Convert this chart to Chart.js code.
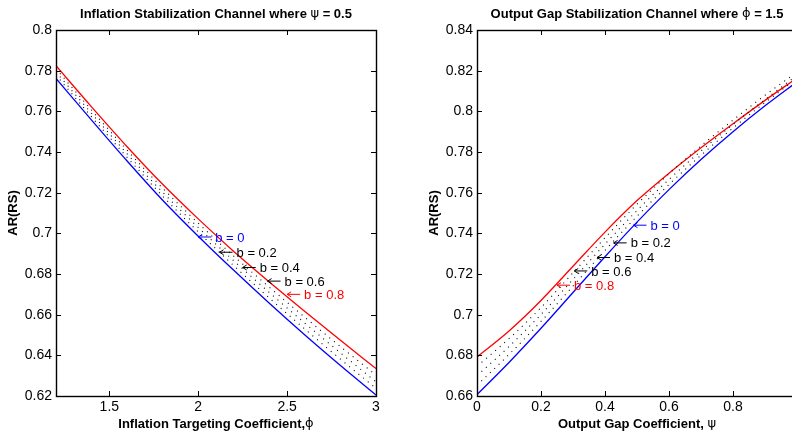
<!DOCTYPE html>
<html>
<head>
<meta charset="utf-8">
<script src="https://cdn.jsdelivr.net/npm/chart.js@4.4.1/dist/chart.umd.min.js"></script>
<style>
  html, body { margin: 0; padding: 0; background: #fff; overflow: hidden; width: 792px; height: 435px; }
  .panel { position: absolute; top: 0; }
  #leftBox { left: 0; }
  #rightBox { left: 400px; }
</style>
</head>
<body>
<div class="panel" id="leftBox"><canvas id="leftChart" width="400" height="435"></canvas></div>
<div class="panel" id="rightBox"><canvas id="rightChart" width="420" height="435"></canvas></div>
<script>
// ---- Inflation stabilization channel (psi = 0.5) ----
const phiValues = [1.2, 1.4, 1.6, 1.8, 2.0, 2.2, 2.4, 2.6, 2.8, 3.0];
const inflB00 = [0.7762, 0.7557, 0.7356, 0.7163, 0.6986, 0.6818, 0.6656, 0.6500, 0.6350, 0.6205];
const inflB02 = [0.7778, 0.7573, 0.7374, 0.7183, 0.7007, 0.6841, 0.6682, 0.6529, 0.6381, 0.6238];
const inflB04 = [0.7793, 0.7590, 0.7391, 0.7202, 0.7029, 0.6865, 0.6709, 0.6558, 0.6412, 0.6270];
const inflB06 = [0.7809, 0.7606, 0.7409, 0.7222, 0.7050, 0.6888, 0.6735, 0.6587, 0.6443, 0.6303];
const inflB08 = [0.7824, 0.7622, 0.7426, 0.7241, 0.7071, 0.6911, 0.6761, 0.6616, 0.6474, 0.6335];
const inflXTicks = [1.5, 2, 2.5, 3];
const inflYTicks = [0.62, 0.64, 0.66, 0.68, 0.70, 0.72, 0.74, 0.76, 0.78, 0.80];
const inflNotes = [
  { x: 2.00, y: 0.6982, text: 'b = 0',   color: '#0000ff' },
  { x: 2.12, y: 0.6907, text: 'b = 0.2', color: '#000000' },
  { x: 2.25, y: 0.6832, text: 'b = 0.4', color: '#000000' },
  { x: 2.39, y: 0.6765, text: 'b = 0.6', color: '#000000' },
  { x: 2.50, y: 0.6700, text: 'b = 0.8', color: '#ff0000' }
];

// ---- Output gap stabilization channel (phi = 1.5) ----
const psiValues = [0.0, 0.1, 0.2, 0.3, 0.4, 0.5, 0.6, 0.7, 0.8, 0.9, 1.0];
const outB00 = [0.6607, 0.6765, 0.6933, 0.7109, 0.7285, 0.7455, 0.7615, 0.7763, 0.7900, 0.8027, 0.8145];
const outB02 = [0.6653, 0.6804, 0.6967, 0.7141, 0.7316, 0.7484, 0.7640, 0.7784, 0.7918, 0.8043, 0.8161];
const outB04 = [0.6700, 0.6843, 0.7001, 0.7173, 0.7347, 0.7512, 0.7665, 0.7805, 0.7935, 0.8058, 0.8177];
const outB06 = [0.6746, 0.6882, 0.7035, 0.7206, 0.7378, 0.7543, 0.7693, 0.7830, 0.7957, 0.8079, 0.8193];
const outB08 = [0.6792, 0.6920, 0.7070, 0.7238, 0.7406, 0.7561, 0.7696, 0.7821, 0.7939, 0.8054, 0.8164];
const outXTicks = [0, 0.2, 0.4, 0.6, 0.8, 1];
const outYTicks = [0.66, 0.68, 0.70, 0.72, 0.74, 0.76, 0.78, 0.80, 0.82, 0.84];
const outNotes = [
  { x: 0.489, y: 0.7440, text: 'b = 0',   color: '#0000ff' },
  { x: 0.427, y: 0.7353, text: 'b = 0.2', color: '#000000' },
  { x: 0.375, y: 0.7281, text: 'b = 0.4', color: '#000000' },
  { x: 0.304, y: 0.7215, text: 'b = 0.6', color: '#000000' },
  { x: 0.250, y: 0.7145, text: 'b = 0.8', color: '#ff0000' }
];

const SANS = '"Liberation Sans", Arial, Helvetica, sans-serif';
const GREEK = '"DejaVu Sans", "Liberation Sans", sans-serif';

const fmt = v => String(parseFloat(Number(v).toFixed(4)));
const pts = (xs, ys) => xs.map((x, i) => ({ x: x, y: ys[i] }));

function solid(data, color) {
  return { data, borderColor: color, borderWidth: 1.3, pointRadius: 0,
           cubicInterpolationMode: 'monotone', fill: false };
}
function dotted(data) {
  return { data, borderColor: '#000', borderWidth: 1.1, borderDash: [1, 5], pointRadius: 0,
           cubicInterpolationMode: 'monotone', fill: false };
}

// draws a line of mixed-font text centred on (cx, cy), optionally rotated
function drawRich(ctx, segs, cx, cy, angle) {
  ctx.save();
  ctx.translate(cx, cy);
  if (angle) ctx.rotate(angle);
  let total = 0;
  segs.forEach(s => { ctx.font = s.f; total += ctx.measureText(s.t).width; });
  let x = -total / 2;
  ctx.textBaseline = 'middle';
  ctx.textAlign = 'left';
  ctx.fillStyle = '#000';
  segs.forEach(s => { ctx.font = s.f; ctx.fillText(s.t, x, 0); x += ctx.measureText(s.t).width; });
  ctx.restore();
}

// frame, inward tick marks on all four sides, labels, arrows
const framePlugin = {
  id: 'frame',
  afterDatasetsDraw(chart, args, opts) {
    const ctx = chart.ctx;
    const a = chart.chartArea;
    const xs = chart.scales.x, ys = chart.scales.y;
    ctx.save();
    ctx.strokeStyle = '#000';
    ctx.lineWidth = 1;
    const tl = 5;
    ctx.beginPath();
    opts.xTicks.forEach(v => {
      const px = Math.round(xs.getPixelForValue(v)) + 0.5;
      ctx.moveTo(px, a.bottom); ctx.lineTo(px, a.bottom - tl);
      ctx.moveTo(px, a.top); ctx.lineTo(px, a.top + tl);
    });
    opts.yTicks.forEach(v => {
      const py = Math.round(ys.getPixelForValue(v)) + 0.5;
      ctx.moveTo(a.left, py); ctx.lineTo(a.left + tl, py);
      ctx.moveTo(a.right, py); ctx.lineTo(a.right - tl, py);
    });
    ctx.stroke();
    ctx.lineWidth = 1.4;
    ctx.strokeRect(Math.round(a.left) + 0.5, Math.round(a.top) + 0.5,
                   Math.round(a.right - a.left), Math.round(a.bottom - a.top));

    // arrow annotations
    ctx.font = '13px ' + SANS;
    ctx.textBaseline = 'middle';
    ctx.textAlign = 'left';
    opts.notes.forEach(n => {
      const px = xs.getPixelForValue(n.x), py = ys.getPixelForValue(n.y);
      ctx.strokeStyle = n.color;
      ctx.fillStyle = n.color;
      ctx.lineWidth = 1;
      ctx.beginPath();
      ctx.moveTo(px, py); ctx.lineTo(px + 13, py);
      ctx.moveTo(px + 4, py - 2.5); ctx.lineTo(px, py); ctx.lineTo(px + 4, py + 2.5);
      ctx.stroke();
      ctx.fillText(n.text, px + 17, py + 1);
    });

    // titles
    drawRich(ctx, opts.title, (a.left + a.right) / 2, 14, 0);
    drawRich(ctx, opts.xTitle, (a.left + a.right) / 2, 424, 0);
    drawRich(ctx, opts.yTitle, opts.yTitleX, (a.top + a.bottom) / 2, -Math.PI / 2);
    ctx.restore();
  }
};

function makeScale(min, max, tickList, isX, size) {
  return {
    type: 'linear',
    min, max,
    afterBuildTicks: s => { s.ticks = tickList.map(v => ({ value: v })); },
    afterFit: s => { if (isX) s.height = size; else s.width = size; },
    grid: { display: false, drawTicks: false },
    border: { display: false },
    ticks: {
      autoSkip: false, maxRotation: 0, padding: isX ? 3 : 4, color: '#000',
      font: { family: SANS, size: 14 },
      callback: v => fmt(v)
    }
  };
}

function makeChart(id, cfg) {
  return new Chart(document.getElementById(id), {
    type: 'line',
    data: {
      datasets: [
        dotted(pts(cfg.xv, cfg.s[1])),
        dotted(pts(cfg.xv, cfg.s[2])),
        dotted(pts(cfg.xv, cfg.s[3])),
        solid(pts(cfg.xv, cfg.s[0]), '#0000ff'),
        solid(pts(cfg.xv, cfg.s[4]), '#ff0000')
      ]
    },
    options: {
      responsive: false,
      animation: false,
      devicePixelRatio: 1,
      layout: { padding: cfg.pad },
      plugins: {
        legend: { display: false },
        tooltip: { enabled: false },
        frame: cfg.frame
      },
      scales: {
        x: makeScale(cfg.xmin, cfg.xmax, cfg.xTicks, true, 39),
        y: makeScale(cfg.ymin, cfg.ymax, cfg.yTicks, false, cfg.yWidth)
      }
    },
    plugins: [framePlugin]
  });
}

const B = 'bold 13px ' + SANS;
const G = '13px ' + GREEK;

makeChart('leftChart', {
  xv: phiValues,
  s: [inflB00, inflB02, inflB04, inflB06, inflB08],
  xmin: 1.2, xmax: 3, ymin: 0.62, ymax: 0.8,
  xTicks: inflXTicks, yTicks: inflYTicks,
  yWidth: 56,
  pad: { left: 0, top: 30, right: 24, bottom: 0 },
  frame: {
    xTicks: inflXTicks, yTicks: inflYTicks, notes: inflNotes,
    title: [{ t: 'Inflation Stabilization Channel where ', f: B }, { t: 'ψ', f: G }, { t: ' = 0.5', f: B }],
    xTitle: [{ t: 'Inflation Targeting Coefficient,', f: B }, { t: 'ϕ', f: G }],
    yTitle: [{ t: 'AR(RS)', f: B }],
    yTitleX: 13
  }
});

makeChart('rightChart', {
  xv: psiValues,
  s: [outB00, outB02, outB04, outB06, outB08],
  xmin: 0, xmax: 1, ymin: 0.66, ymax: 0.84,
  xTicks: outXTicks, yTicks: outYTicks,
  yWidth: 77,
  pad: { left: 0, top: 30, right: 23, bottom: 0 },
  frame: {
    xTicks: outXTicks, yTicks: outYTicks, notes: outNotes,
    title: [{ t: 'Output Gap Stabilization Channel where ', f: B }, { t: 'ϕ', f: G }, { t: ' = 1.5', f: B }],
    xTitle: [{ t: 'Output Gap Coefficient, ', f: B }, { t: 'ψ', f: G }],
    yTitle: [{ t: 'AR(RS)', f: B }],
    yTitleX: 34
  }
});
</script>
</body>
</html>
